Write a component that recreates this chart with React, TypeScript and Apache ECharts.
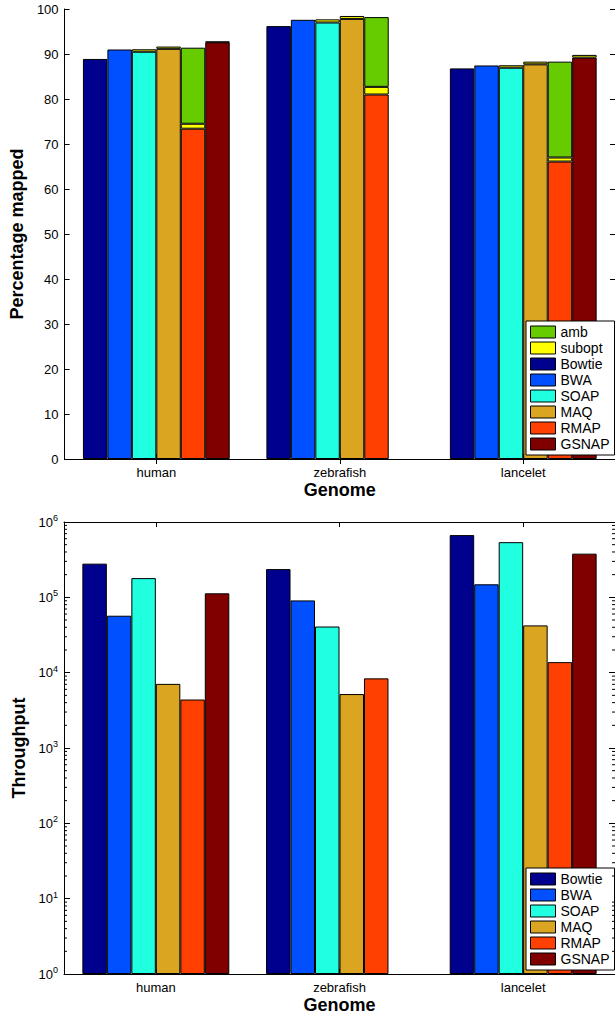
import React, { useEffect, useRef } from 'react';
import * as echarts from 'echarts';

const genomes = ['human', 'zebrafish', 'lancelet'];
const methods = ['Bowtie', 'BWA', 'SOAP', 'MAQ', 'RMAP', 'GSNAP'];
const methodColors = ['#00008F', '#0050FF', '#20FFE0', '#DAA520', '#FF4000', '#800000'];
const ambColor = '#66CC00';
const suboptColor = '#FFFF00';

// Percentage mapped (unique), per genome: human, zebrafish, lancelet
const mappedBowtie = [88.9, 96.2, 86.8];
const mappedBWA = [91.0, 97.6, 87.45];
const mappedSOAP = [90.5, 97.0, 86.95];
const mappedMAQ = [91.15, 97.8, 87.7];
const mappedRMAP = [73.4, 81.0, 66.1];
const mappedGSNAP = [92.6, null, 89.2];

// sub-optimal hits on top
const suboptSOAP = [0.55, 0.7, 0.55];
const suboptMAQ = [0.5, 0.65, 0.6];
const suboptRMAP = [1.1, 1.7, 0.9];
const suboptGSNAP = [0.15, null, 0.6];

// ambiguous hits on top
const ambRMAP = [16.9, 15.5, 21.3];

// Throughput (reads / hour), log scale
const tputBowtie = [280000, 237000, 670000];
const tputBWA = [57000, 91000, 149000];
const tputSOAP = [180000, 41000, 540000];
const tputMAQ = [7100, 5200, 42400];
const tputRMAP = [4400, 8400, 13800];
const tputGSNAP = [113000, null, 380000];

const percentTicks = { min: 0, max: 100, interval: 10 };
const logDecades = [1, 10, 100, 1000, 10000, 100000];
const minorMultipliers = [2, 3, 4, 5, 6, 7, 8, 9];

const FONT = '"Liberation Sans", Arial, Helvetica, sans-serif';

export default function App() {
  const ref = useRef<HTMLDivElement>(null);

  useEffect(() => {
    if (!ref.current) return;
    const chart = echarts.init(ref.current, null, { renderer: 'svg' });

    const mapped = [mappedBowtie, mappedBWA, mappedSOAP, mappedMAQ, mappedRMAP, mappedGSNAP];
    const tput = [tputBowtie, tputBWA, tputSOAP, tputMAQ, tputRMAP, tputGSNAP];
    const subopts: Record<string, (number | null)[]> = {
      SOAP: suboptSOAP,
      MAQ: suboptMAQ,
      RMAP: suboptRMAP,
      GSNAP: suboptGSNAP,
    };
    const ambs: Record<string, (number | null)[]> = { RMAP: ambRMAP };

    const border = { borderColor: '#000', borderWidth: 1 };
    const barCommon = { barGap: '0%', barCategoryGap: '20%' };

    const series: any[] = [];
    methods.forEach((m, i) => {
      series.push({
        type: 'bar', name: m, stack: m, xAxisIndex: 0, yAxisIndex: 0,
        data: mapped[i], itemStyle: { color: methodColors[i], ...border }, ...barCommon,
      });
    });
    methods.forEach((m) => {
      if (subopts[m]) {
        series.push({
          type: 'bar', name: 'subopt', stack: m, xAxisIndex: 0, yAxisIndex: 0,
          data: subopts[m], itemStyle: { color: suboptColor, ...border }, ...barCommon,
        });
      }
      if (ambs[m]) {
        series.push({
          type: 'bar', name: 'amb', stack: m, xAxisIndex: 0, yAxisIndex: 0,
          data: ambs[m], itemStyle: { color: ambColor, ...border }, ...barCommon,
        });
      }
    });
    methods.forEach((m, i) => {
      series.push({
        type: 'bar', name: m, xAxisIndex: 2, yAxisIndex: 2,
        data: tput[i], itemStyle: { color: methodColors[i], ...border }, ...barCommon,
      });
    });

    const minorTicks: number[][] = [];
    logDecades.forEach((d) => minorMultipliers.forEach((k) => minorTicks.push([0, k * d])));
    series.push({
      type: 'custom', xAxisIndex: 2, yAxisIndex: 2, silent: true, z: 10,
      data: minorTicks, encode: { x: 0, y: 1 },
      renderItem: (params: any, api: any) => {
        const cs = params.coordSys;
        const y = api.coord([0, api.value(1)])[1];
        return {
          type: 'group',
          children: [
            { type: 'line', shape: { x1: cs.x, y1: y, x2: cs.x + 3, y2: y }, style: { stroke: '#000', lineWidth: 1 } },
            { type: 'line', shape: { x1: cs.x + cs.width - 3, y1: y, x2: cs.x + cs.width, y2: y }, style: { stroke: '#000', lineWidth: 1 } },
          ],
        };
      },
    });

    const axisLine = { show: true, lineStyle: { color: '#000', width: 1 } };
    const labelStyle = { color: '#000', fontSize: 13, fontFamily: FONT };
    const legendText = { color: '#000', fontSize: 14, fontFamily: FONT };
    const nameStyle = { color: '#000', fontSize: 18, fontWeight: 'bold', fontFamily: FONT };

    const catAxis = (gridIndex: number, position: string, showLabel: boolean, withName: boolean) => ({
      type: 'category', gridIndex, position, data: genomes,
      axisLine, axisTick: { show: true, inside: true, alignWithLabel: true, length: 5, lineStyle: { color: '#000' } },
      axisLabel: { show: showLabel, margin: 7, ...labelStyle },
      splitLine: { show: false },
      name: withName ? 'Genome' : '', nameLocation: 'middle', nameGap: 22, nameTextStyle: nameStyle,
    });

    const supFormatter = (v: number) => '{b|10}{s|' + Math.round(Math.log10(v)) + '}';
    const logLabel = {
      ...labelStyle, formatter: supFormatter, margin: 6,
      rich: {
        b: { fontSize: 13, fontFamily: FONT, color: '#000' },
        s: { fontSize: 9, fontFamily: FONT, color: '#000', padding: [0, 0, 8, 0] },
      },
    };

    const legendCommon = {
      orient: 'vertical', left: 526,
      itemWidth: 25, itemHeight: 12, itemGap: 2,
      padding: [4, 5, 4, 4],
      backgroundColor: '#fff', borderColor: '#000', borderWidth: 1,
      icon: 'rect', itemStyle: { borderColor: '#000', borderWidth: 1 },
      textStyle: legendText, selectedMode: false,
    };

    const option: any = {
      animation: false,
      textStyle: { fontFamily: FONT },
      grid: [
        { left: 64, right: -4, top: 9, height: 450, containLabel: false },
        { left: 64, right: -4, top: 522, height: 452, containLabel: false },
      ],
      xAxis: [
        catAxis(0, 'bottom', true, true),
        catAxis(0, 'top', false, false),
        catAxis(1, 'bottom', true, true),
        catAxis(1, 'top', false, false),
      ],
      yAxis: [
        {
          type: 'value', gridIndex: 0, position: 'left', ...percentTicks,
          axisLine, axisTick: { show: true, inside: true, length: 5, lineStyle: { color: '#000' } },
          axisLabel: { margin: 6, ...labelStyle }, splitLine: { show: false },
          name: 'Percentage mapped', nameLocation: 'middle', nameGap: 34, nameTextStyle: nameStyle,
        },
        {
          type: 'value', gridIndex: 0, position: 'right', ...percentTicks,
          axisLine, axisTick: { show: true, inside: true, length: 5, lineStyle: { color: '#000' } },
          axisLabel: { show: false }, splitLine: { show: false },
        },
        {
          type: 'log', gridIndex: 1, position: 'left', min: 1, max: 1000000, logBase: 10, splitNumber: 6,
          axisLine, axisTick: { show: true, inside: true, length: 6, lineStyle: { color: '#000' } },
          axisLabel: logLabel, splitLine: { show: false },
          name: 'Throughput', nameLocation: 'middle', nameGap: 34, nameTextStyle: nameStyle,
        },
        {
          type: 'log', gridIndex: 1, position: 'right', min: 1, max: 1000000, logBase: 10, splitNumber: 6,
          axisLine, axisTick: { show: true, inside: true, length: 6, lineStyle: { color: '#000' } },
          axisLabel: { show: false }, splitLine: { show: false },
        },
      ],
      legend: [
        { ...legendCommon, bottom: 564, data: ['amb', 'subopt', ...methods] },
        { ...legendCommon, bottom: 49, data: methods },
      ],
      series,
    };

    chart.setOption(option);
    return () => chart.dispose();
  }, []);

  return (
    <div style={{ position: 'absolute', left: 0, top: 0, width: 615, height: 1019, overflow: 'hidden', background: '#fff' }}>
      <div ref={ref} style={{ width: 615, height: 1019 }} />
    </div>
  );
}
